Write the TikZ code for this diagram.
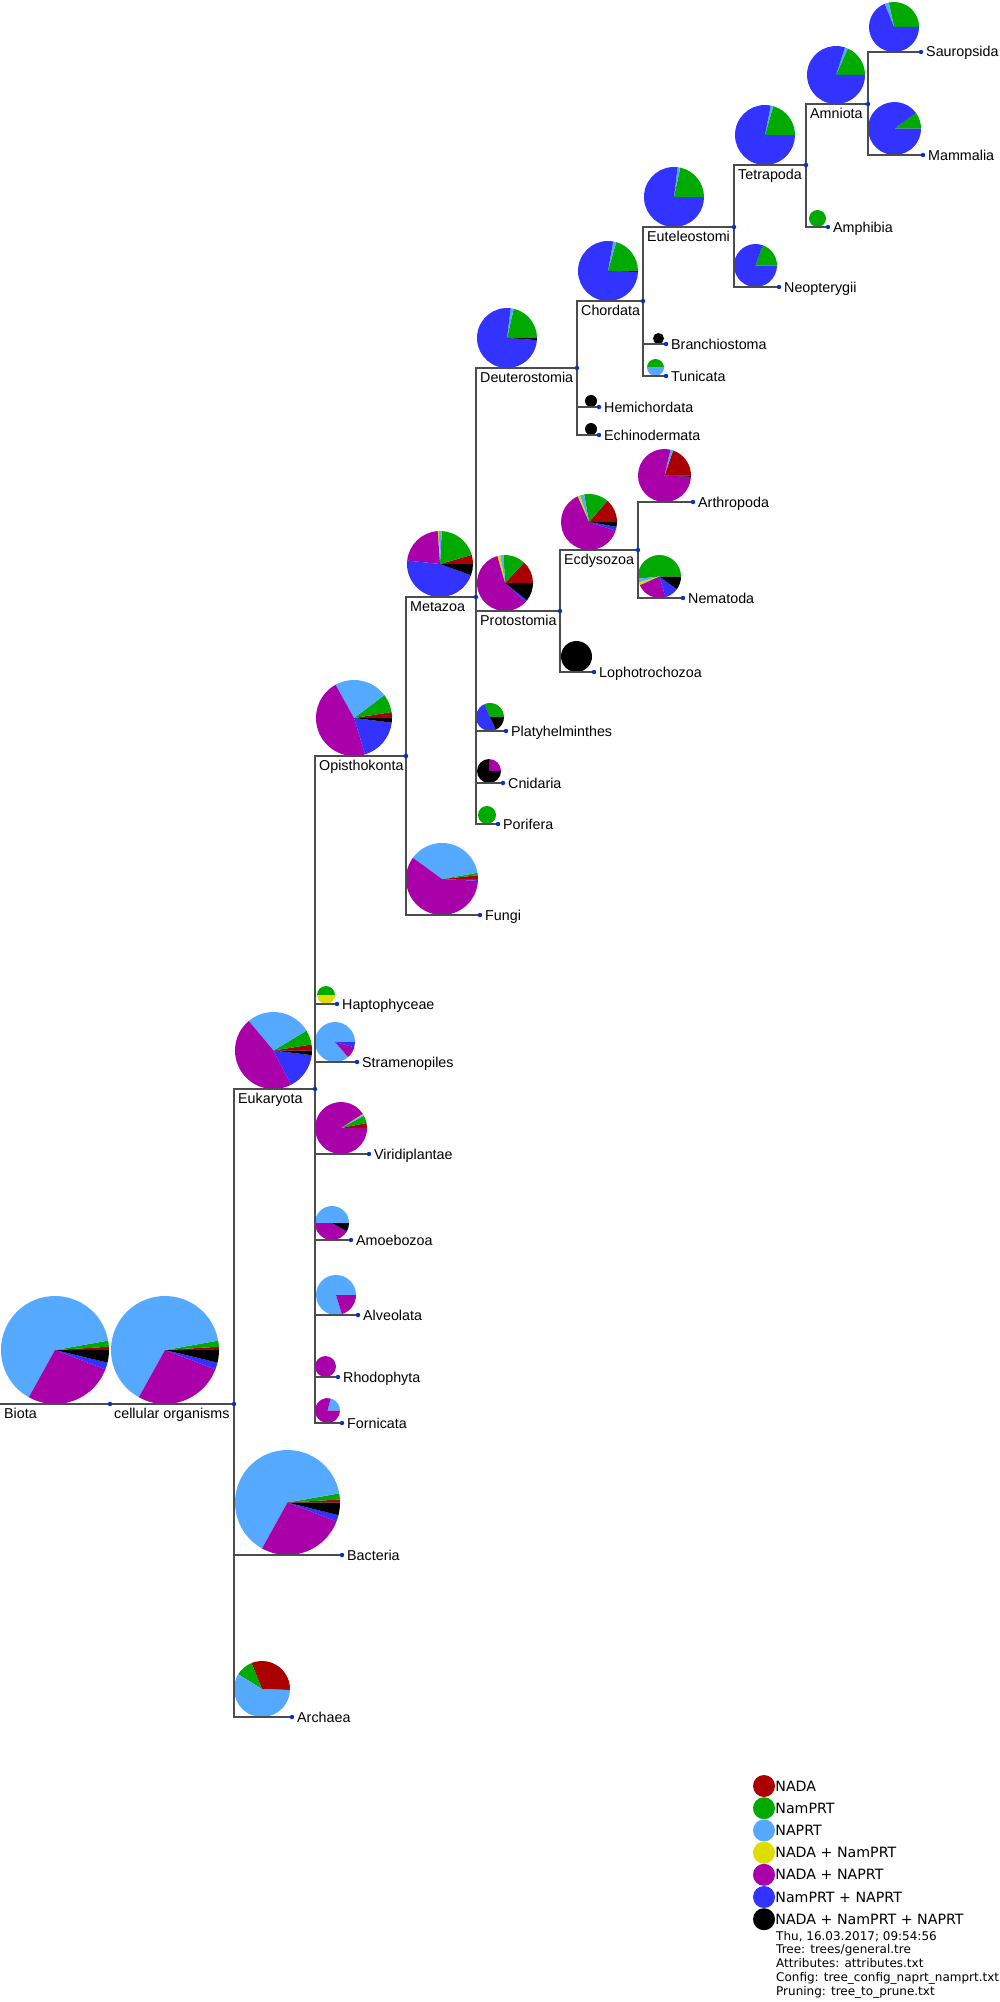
\documentclass[tikz,border=0pt]{standalone}
\usepackage{fontspec}
\setmainfont{Liberation Sans}
\newfontfamily\legendfont{DejaVu Sans}
\usepackage{tikz}
\usetikzlibrary{positioning,calc}
\usepackage{xcolor}
\definecolor{nadared}{RGB}{170,0,0}
\definecolor{namgreen}{RGB}{0,170,0}
\definecolor{naplight}{RGB}{85,170,255}
\definecolor{dualyellow}{RGB}{221,221,0}
\definecolor{dualpurple}{RGB}{170,0,170}
\definecolor{dualblue}{RGB}{51,51,255}
\definecolor{allblack}{RGB}{0,0,0}
\definecolor{dotblue}{RGB}{0,51,204}
% #1 centre, #2 radius, #3 colour/end-angle list
\newcommand{\cladepie}[3]{%
  \foreach \col/\pend [remember=\pend as \pstart (initially 0)] in {#3}
    {\fill[\col] #1 -- ++(\pstart:#2) arc[start angle=\pstart, end angle=\pend, radius=#2] -- cycle;}%
}

\begin{document}
\begin{tikzpicture}[x=1pt, y=1pt, node distance=5pt,
  every node/.style={font=\fontsize{14.3}{16}\selectfont},
  branch/.style={draw=black!70, line width=1.3pt},
  leaflabel/.style={anchor=west, inner sep=0pt, text height=13pt, text depth=3pt},
  cladelabel/.style={anchor=north west, inner sep=0pt, text height=13pt, text depth=3pt, xshift=4pt, yshift=-1pt},
  legdot/.style={circle, inner sep=0pt, minimum size=22pt},
  legtext/.style={inner sep=0pt, text height=13pt, text depth=3pt, font=\legendfont\fontsize{14.2}{16}\selectfont},
  stamp/.style={anchor=base west, inner sep=0pt, font=\legendfont\fontsize{12}{14}\selectfont}]
  \useasboundingbox (0,0) rectangle (1000,-2002);

  % tree points
  \coordinate (root) at (0,-1404);
  \coordinate (biota) at (110,-1404);
  \coordinate (cellorg) at (234,-1404);
  \coordinate (euk) at (315,-1089);
  \coordinate (bact) at (342,-1555);
  \coordinate (arch) at (292,-1717);
  \coordinate (opis) at (406,-756);
  \coordinate (hapto) at (337,-1004);
  \coordinate (stram) at (357,-1062);
  \coordinate (virid) at (369,-1154);
  \coordinate (amoe) at (351,-1240);
  \coordinate (alveo) at (358,-1315);
  \coordinate (rhodo) at (338,-1377);
  \coordinate (forni) at (342,-1423);
  \coordinate (meta) at (476,-597);
  \coordinate (fungi) at (480,-915);
  \coordinate (deut) at (577,-368);
  \coordinate (prot) at (560,-611);
  \coordinate (platy) at (506,-731);
  \coordinate (cnid) at (503,-783);
  \coordinate (pori) at (498,-824);
  \coordinate (chord) at (643,-301);
  \coordinate (hemi) at (599,-407);
  \coordinate (echi) at (599,-435);
  \coordinate (eutel) at (734,-227);
  \coordinate (branchio) at (666,-344);
  \coordinate (tunic) at (666,-376);
  \coordinate (tetra) at (806,-165);
  \coordinate (neop) at (779,-287);
  \coordinate (amni) at (868,-104);
  \coordinate (amph) at (828,-227);
  \coordinate (saur) at (921,-52);
  \coordinate (mamm) at (923,-155);
  \coordinate (ecdy) at (638,-550);
  \coordinate (lopho) at (594,-672);
  \coordinate (arthro) at (693,-502);
  \coordinate (nema) at (683,-598);

  % pies
  \cladepie{(55,-1350)}{54}{nadared/3.5, namgreen/10, naplight/241, dualpurple/339, dualblue/346.5, allblack/360}
  \cladepie{(165,-1350)}{54}{nadared/3.5, namgreen/10, naplight/241, dualpurple/339, dualblue/346.5, allblack/360}
  \cladepie{(273.5,-1050.5)}{38.5}{nadared/9, namgreen/31, naplight/130, dualpurple/297, dualblue/353, allblack/360}
  \cladepie{(287.5,-1502.5)}{52.5}{nadared/3.3, namgreen/10, naplight/241, dualpurple/339, dualblue/346, allblack/360}
  \cladepie{(262,-1689)}{28}{nadared/112, namgreen/148, naplight/358, dualpurple/360}
  \cladepie{(354,-718)}{38}{nadared/9, namgreen/37, naplight/119, dualpurple/287, dualblue/353, allblack/360}
  \cladepie{(326,-995)}{9}{namgreen/180, dualyellow/360}
  \cladepie{(335,-1042)}{20}{naplight/311, dualpurple/344.5, dualblue/360}
  \cladepie{(341,-1128)}{26}{nadared/11, namgreen/28, naplight/31, dualyellow/33, dualpurple/360}
  \cladepie{(332,-1223)}{17}{naplight/180, dualpurple/331, allblack/360}
  \cladepie{(336,-1295)}{20}{naplight/287, dualpurple/360}
  \cladepie{(325.5,-1366.5)}{10.5}{dualpurple/360}
  \cladepie{(327.5,-1410.5)}{12.5}{naplight/75, dualpurple/360}
  \cladepie{(440,-564)}{33}{nadared/16, namgreen/87, naplight/92, dualyellow/94, dualpurple/174, dualblue/340, allblack/360}
  \cladepie{(442,-879)}{36}{nadared/6, namgreen/10, naplight/144, dualpurple/357, dualblue/360}
  \cladepie{(507,-338)}{30}{namgreen/77, naplight/83, dualblue/356, allblack/360}
  \cladepie{(505,-583)}{28}{nadared/47, namgreen/93, naplight/100, dualyellow/106, dualpurple/317, dualblue/322, allblack/360}
  \cladepie{(490,-717)}{14}{namgreen/114, dualblue/295, allblack/360}
  \cladepie{(489,-771)}{12}{dualpurple/90, allblack/360}
  \cladepie{(487,-815)}{9}{namgreen/360}
  \cladepie{(608,-271)}{30}{namgreen/74, naplight/80, dualblue/358, allblack/360}
  \cladepie{(591,-401)}{6}{allblack/360}
  \cladepie{(591,-429)}{6}{allblack/360}
  \cladepie{(674,-197)}{30}{namgreen/78, naplight/83, dualblue/360}
  \cladepie{(658.5,-338.5)}{5.5}{allblack/360}
  \cladepie{(655.5,-367.5)}{8.5}{namgreen/180, naplight/360}
  \cladepie{(765,-135)}{30}{namgreen/74, naplight/79, dualblue/360}
  \cladepie{(755.5,-265.5)}{21.5}{namgreen/70, dualblue/360}
  \cladepie{(836,-75)}{29}{namgreen/66, naplight/72, dualblue/360}
  \cladepie{(817.5,-218.5)}{8.5}{namgreen/360}
  \cladepie{(894,-27)}{25}{namgreen/102, naplight/112, dualblue/360}
  \cladepie{(894.5,-128.5)}{26.5}{namgreen/36, dualblue/360}
  \cladepie{(589,-522)}{28}{nadared/49, namgreen/100, naplight/109, dualyellow/114, dualpurple/342, dualblue/350, allblack/360}
  \cladepie{(576.5,-656.5)}{15.5}{allblack/360}
  \cladepie{(664.5,-475.5)}{26.5}{nadared/71, naplight/77, dualpurple/357, allblack/360}
  \cladepie{(659.5,-576.5)}{21.5}{namgreen/186, naplight/196, dualyellow/204, dualpurple/286, dualblue/324, allblack/360}

  % branches
  \draw[branch] (root) -- (biota);
  \draw[branch] (biota) -- (cellorg);
  \draw[branch] (cellorg) |- (euk);
  \draw[branch] (cellorg) |- (bact);
  \draw[branch] (cellorg) |- (arch);
  \foreach \n in {opis,hapto,stram,virid,amoe,alveo,rhodo,forni}
    \draw[branch] (euk) |- (\n);
  \draw[branch] (opis) |- (meta);
  \draw[branch] (opis) |- (fungi);
  \foreach \n in {deut,prot,platy,cnid,pori}
    \draw[branch] (meta) |- (\n);
  \foreach \n in {chord,hemi,echi}
    \draw[branch] (deut) |- (\n);
  \foreach \n in {eutel,branchio,tunic}
    \draw[branch] (chord) |- (\n);
  \draw[branch] (eutel) |- (tetra);
  \draw[branch] (eutel) |- (neop);
  \draw[branch] (tetra) |- (amni);
  \draw[branch] (tetra) |- (amph);
  \draw[branch] (amni) |- (saur);
  \draw[branch] (amni) |- (mamm);
  \draw[branch] (prot) |- (ecdy);
  \draw[branch] (prot) |- (lopho);
  \draw[branch] (ecdy) |- (arthro);
  \draw[branch] (ecdy) |- (nema);

  \foreach \n in {biota,cellorg,euk,bact,arch,opis,hapto,stram,virid,amoe,alveo,rhodo,forni,
      meta,fungi,deut,prot,platy,cnid,pori,chord,hemi,echi,eutel,branchio,tunic,
      tetra,neop,amni,amph,saur,mamm,ecdy,lopho,arthro,nema}
    \fill[dotblue] (\n) circle (2.2);

  % clade labels
  \node[cladelabel] at (root |- biota) {Biota};
  \node[cladelabel] at (biota |- cellorg) {cellular organisms};
  \node[cladelabel] at (cellorg |- euk) {Eukaryota};
  \node[cladelabel] at (euk |- opis) {Opisthokonta};
  \node[cladelabel] at (opis |- meta) {Metazoa};
  \node[cladelabel] at (meta |- deut) {Deuterostomia};
  \node[cladelabel] at (meta |- prot) {Protostomia};
  \node[cladelabel] at (deut |- chord) {Chordata};
  \node[cladelabel] at (chord |- eutel) {Euteleostomi};
  \node[cladelabel] at (eutel |- tetra) {Tetrapoda};
  \node[cladelabel] at (tetra |- amni) {Amniota};
  \node[cladelabel] at (prot |- ecdy) {Ecdysozoa};

  % leaf labels
  \node[leaflabel, right=of bact] {Bacteria};
  \node[leaflabel, right=of arch] {Archaea};
  \node[leaflabel, right=of hapto] {Haptophyceae};
  \node[leaflabel, right=of stram] {Stramenopiles};
  \node[leaflabel, right=of virid] {Viridiplantae};
  \node[leaflabel, right=of amoe] {Amoebozoa};
  \node[leaflabel, right=of alveo] {Alveolata};
  \node[leaflabel, right=of rhodo] {Rhodophyta};
  \node[leaflabel, right=of forni] {Fornicata};
  \node[leaflabel, right=of fungi] {Fungi};
  \node[leaflabel, right=of platy] {Platyhelminthes};
  \node[leaflabel, right=of cnid] {Cnidaria};
  \node[leaflabel, right=of pori] {Porifera};
  \node[leaflabel, right=of hemi] {Hemichordata};
  \node[leaflabel, right=of echi] {Echinodermata};
  \node[leaflabel, right=of branchio] {Branchiostoma};
  \node[leaflabel, right=of tunic] {Tunicata};
  \node[leaflabel, right=of neop] {Neopterygii};
  \node[leaflabel, right=of amph] {Amphibia};
  \node[leaflabel, right=of saur] {Sauropsida};
  \node[leaflabel, right=of mamm] {Mammalia};
  \node[leaflabel, right=of lopho] {Lophotrochozoa};
  \node[leaflabel, right=of arthro] {Arthropoda};
  \node[leaflabel, right=of nema] {Nematoda};

  % legend
  \foreach \col/\txt [count=\i from 0] in {nadared/NADA, namgreen/NamPRT, naplight/NAPRT,
      dualyellow/NADA + NamPRT, dualpurple/NADA + NAPRT, dualblue/NamPRT + NAPRT,
      allblack/NADA + NamPRT + NAPRT} {
    \node[legdot, fill=\col] (leg\i) at (764,-1786-22.2*\i) {};
    \node[legtext, right=0pt of leg\i] {\txt};
  }
  \foreach \txt [count=\i from 0] in {{Thu, 16.03.2017; 09:54:56}, {Tree: trees/general.tre},
      {Attributes: attributes.txt}, {Config: tree\_config\_naprt\_namprt.txt},
      {Pruning: tree\_to\_prune.txt}}
    \node[stamp] (info\i) at (776,-1940-13.8*\i) {\txt};
\end{tikzpicture}
\end{document}
